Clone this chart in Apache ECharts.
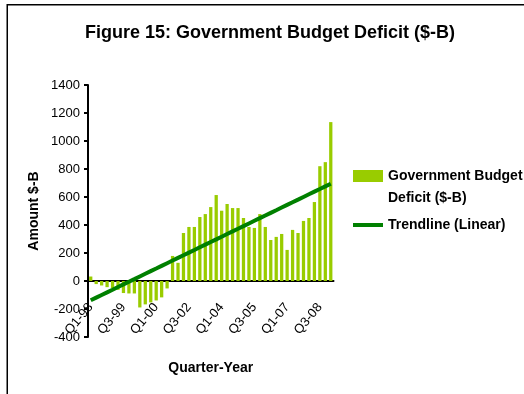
<!DOCTYPE html>
<html>
<head>
<meta charset="utf-8">
<script src="https://cdn.jsdelivr.net/npm/echarts@6/dist/echarts.min.js"></script>
<style>
  html, body { margin: 0; padding: 0; background: #fff; }
  #chart { width: 524px; height: 394px; }
</style>
</head>
<body>
<div id="chart"></div>
<script>
// Quarterly government budget deficit, $ billions
const categories = [
  'Q1-98','Q2-98','Q3-98','Q4-98','Q1-99','Q2-99','Q3-99','Q4-99',
  'Q1-00','Q2-00','Q3-00','Q4-00','Q1-00','Q2-01','Q3-01','Q4-01',
  'Q1-02','Q2-02','Q3-02','Q4-02','Q1-03','Q2-03','Q3-03','Q4-03',
  'Q1-04','Q2-04','Q3-04','Q4-04','Q1-05','Q2-05','Q3-05','Q4-05',
  'Q1-06','Q2-06','Q3-06','Q4-06','Q1-07','Q2-07','Q3-07','Q4-07',
  'Q1-08','Q2-08','Q3-08','Q4-08','Q1-09'
];
const deficit = [
  32, -22, -32, -44, -51, -63, -86, -89,
  -89, -189, -167, -153, -139, -117, -53, 179,
  130, 343, 386, 386, 457, 478, 528, 614,
  502, 550, 521, 521, 450, 386, 379, 478,
  386, 293, 315, 336, 222, 365, 343, 429,
  450, 564, 820, 849, 1135
];
const yTicks = [-400, -200, 0, 200, 400, 600, 800, 1000, 1200, 1400];

// Least-squares linear trend over the quarter index
function linearTrend(values) {
  const n = values.length;
  let sx = 0, sy = 0, sxx = 0, sxy = 0;
  values.forEach((v, i) => { sx += i; sy += v; sxx += i * i; sxy += i * v; });
  const slope = (n * sxy - sx * sy) / (n * sxx - sx * sx);
  const intercept = (sy - slope * sx) / n;
  return values.map((_, i) => +(intercept + slope * i).toFixed(1));
}
const trend = linearTrend(deficit);

const FONT = 'Liberation Sans, Arial, sans-serif';
const chart = echarts.init(document.getElementById('chart'), null, { renderer: 'canvas' });

chart.setOption({
  animation: false,
  backgroundColor: '#fff',
  title: {
    text: 'Figure 15: Government Budget Deficit ($-B)',
    left: 80,
    top: 19,
    textStyle: { fontFamily: FONT, fontSize: 18, fontWeight: 'bold', color: '#000' }
  },
  graphic: [{
    type: 'rect',
    shape: { x: 7.25, y: 4.75, width: 700, height: 600 },
    style: { fill: 'none', stroke: '#000', lineWidth: 1.5 },
    silent: true
  }],
  legend: {
    orient: 'vertical',
    left: 348,
    top: 138,
    itemWidth: 30,
    itemHeight: 12,
    itemGap: 5,
    selectedMode: false,
    data: [
      { name: 'Government Budget Deficit ($-B)', icon: 'rect' },
      { name: 'Trendline (Linear)', icon: 'path://M0 0 L30 0 L30 4 L0 4 Z' }
    ],
    // first entry is laid out on two lines with its key beside the first one
    formatter: name => name.indexOf(' Deficit') > 0
      ? '\n' + name.replace(' Deficit', '\nDeficit')
      : name,
    textStyle: { fontFamily: FONT, fontSize: 14, fontWeight: 'bold', color: '#000', lineHeight: 22 }
  },
  grid: { left: 88, top: 85, width: 245.5, height: 252, containLabel: false, outerBoundsMode: 'none' },
  xAxis: {
    type: 'category',
    data: categories,
    boundaryGap: true,
    axisLine: { onZero: true, lineStyle: { color: '#000', width: 2 } },
    axisTick: { show: false },
    axisLabel: {
      interval: 5,
      rotate: 50,
      margin: -32,
      fontFamily: FONT,
      fontSize: 13,
      color: '#000'
    },
    name: 'Quarter-Year',
    nameLocation: 'middle',
    nameGap: 24,
    nameTextStyle: { fontFamily: FONT, fontSize: 14, fontWeight: 'bold', color: '#000' },
    splitLine: { show: false }
  },
  yAxis: {
    type: 'value',
    min: yTicks[0],
    max: yTicks[yTicks.length - 1],
    interval: 200,
    axisLine: { show: true, lineStyle: { color: '#000', width: 2 } },
    axisTick: { show: true, length: 4, lineStyle: { color: '#000', width: 2 } },
    axisLabel: {
      margin: 8, fontFamily: FONT, fontSize: 13, color: '#000',
      formatter: v => String(v)
    },
    splitLine: { show: false },
    name: 'Amount $-B',
    nameLocation: 'middle',
    nameRotate: 90,
    nameGap: 47,
    nameTextStyle: { fontFamily: FONT, fontSize: 14, fontWeight: 'bold', color: '#000' }
  },
  series: [
    {
      name: 'Government Budget Deficit ($-B)',
      type: 'bar',
      data: deficit,
      barWidth: '60%',
      itemStyle: { color: '#99CC00' },
      z: 2
    },
    {
      name: 'Trendline (Linear)',
      type: 'line',
      data: trend,
      symbol: 'none',
      lineStyle: { color: '#008000', width: 4 },
      itemStyle: { color: '#008000' },
      z: 3
    }
  ]
});
</script>
</body>
</html>
